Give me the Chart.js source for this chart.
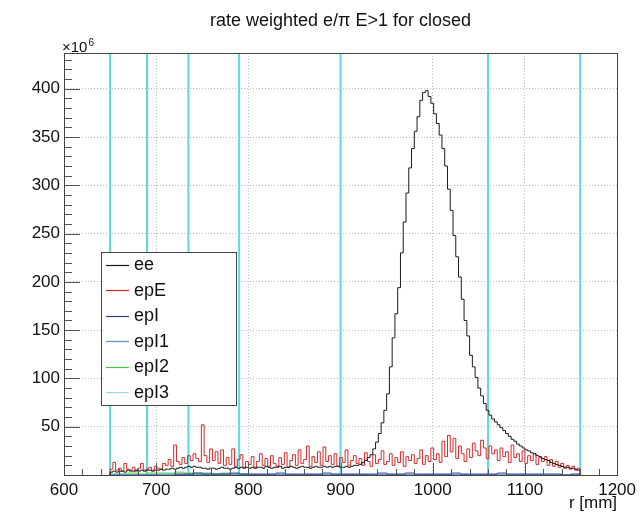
<!DOCTYPE html>
<html>
<head>
<meta charset="utf-8">
<script src="https://cdn.jsdelivr.net/npm/chart.js@4.4.1/dist/chart.umd.min.js"></script>
<style>
  html, body { margin: 0; padding: 0; background: #fff; }
  canvas { display: block; }
</style>
</head>
<body>
<canvas id="rateChart" width="641" height="515"></canvas>
<script>
// histogram binning (mm)
const binStart = 650;
const binWidth = 3;
const coarseWidth = 10;

const eeCounts = [
  3, 4, 3, 4, 4, 3, 5, 4, 4, 5,
  4, 5, 4, 5, 5, 4, 5, 5, 6, 5,
  6, 6, 7, 6, 7, 8, 7, 8, 9, 8,
  9, 8, 8, 7, 7, 6, 7, 7, 6, 7,
  8, 7, 7, 6, 7, 8, 7, 8, 7, 8,
  7, 8, 7, 8, 8, 7, 9, 8, 7, 8,
  8, 9, 7, 8, 8, 9, 8, 7, 8, 9,
  8, 8, 7, 8, 9, 8, 8, 9, 8, 9,
  8, 9, 9, 8, 8, 9, 8, 9, 10, 10,
  11, 13, 15, 18, 21, 27, 34, 43, 54, 67,
  84, 112, 142, 167, 194, 230, 262, 292, 318, 338,
  356, 371, 388, 396, 398, 392, 385, 374, 364, 352,
  338, 320, 296, 274, 248, 226, 205, 182, 160, 144,
  124, 112, 101, 90, 82, 74, 67, 62, 58, 55,
  52, 49, 46, 43, 40, 37, 35, 32, 30, 28,
  26, 25, 23, 22, 20, 19, 17, 16, 15, 13,
  12, 11, 10, 9, 8, 8, 7, 7, 6, 5
];

const epECounts = [
  6, 13, 5, 7, 4, 12, 6, 5, 8, 4,
  7, 12, 5, 6, 8, 5, 9, 7, 6, 12,
  10, 16, 9, 31, 14, 11, 18, 12, 20, 15,
  22, 17, 14, 52, 20, 13, 27, 15, 24, 12,
  26, 10, 18, 11, 27, 9, 16, 21, 8, 14,
  11, 19, 8, 14, 22, 10, 17, 9, 20, 12,
  9, 18, 11, 23, 8, 15, 21, 10, 26, 12,
  16, 30, 9, 19, 13, 24, 10, 29, 14, 20,
  11, 22, 9, 18, 13, 26, 10, 15, 20, 12,
  17, 10, 23, 14, 9, 21, 12, 16, 25, 11,
  14, 22, 10, 18, 13, 24, 9, 19, 15, 21,
  12, 17, 26, 11, 20, 14, 28, 16, 22, 13,
  35, 19, 41, 24, 38, 17, 30, 22, 14, 27,
  18, 33, 25, 20, 36, 28, 17, 30, 22, 26,
  15, 28, 19, 24, 13, 31, 18, 22, 14, 25,
  12, 20, 15, 22, 11, 18, 14, 19, 10, 16,
  9, 14, 8, 12, 7, 10, 6, 9, 5, 7
];

const epIStart = 720;
const epICounts = [
  1, 1, 2, 1, 1, 1, 2, 1, 1, 1,
  1, 2, 1, 1, 1, 1, 2, 1, 1, 1,
  1, 1, 2, 1, 1, 2, 1, 1, 1, 1,
  2, 1, 1, 1, 1, 2, 1, 1, 1, 1,
  1, 1, 0, 1
];

const epI1Start = 650;
const epI1Counts = [
  0.5, 0.8, 0.4, 0.6, 0.5, 0.7, 0.9, 0.6, 0.8, 0.7,
  0.9, 1.0, 0.8, 0.7, 0.9, 0.6, 0.5, 0.7, 0.6, 0.5,
  0.4, 0.6, 0.5, 0.4, 0.5, 0.6, 0.4, 0.5, 0.3, 0.4,
  0.5, 0.4, 0.3, 0.4, 0.5, 0.3, 0.4, 0.3, 0.4, 0.3,
  0.3, 0.4, 0.2, 0.3, 0.3, 0.2, 0.3, 0.2, 0.2, 0.1,
  0.1
];

const epI2Start = 650;
const epI2Counts = [1, 1, 2, 1, 2, 2, 2, 3, 2, 2, 2, 1, 2, 1, 1];

const epI3Start = 650;
const epI3Counts = [
  0.3, 0.4, 0.3, 0.5, 0.4, 0.6, 0.5, 0.7, 0.6, 0.5,
  0.6, 0.7, 0.5, 0.4, 0.5, 0.4, 0.3, 0.4, 0.3, 0.3,
  0.2, 0.3, 0.2, 0.3, 0.2, 0.2, 0.3, 0.2, 0.2, 0.1,
  0.2, 0.1, 0.2, 0.1, 0.1, 0.2, 0.1, 0.1, 0.1, 0.1,
  0.1, 0.1, 0.1, 0.1, 0.1, 0.1, 0.1, 0.1, 0.1, 0.1,
  0.1
];

const seriesNames = ["ee", "epE", "epI", "epI1", "epI2", "epI3"];
const seriesColors = ["#1a1a1a", "#d22b2b", "#2e3d92", "#5b8fd6", "#3ccc3c", "#9fd6d6"];

const cutPositions = [650, 690, 735, 790, 900, 1060, 1160];

const xTickValues = [600, 700, 800, 900, 1000, 1100, 1200];
const yTickValues = [50, 100, 150, 200, 250, 300, 350, 400];
const xMin = 600, xMax = 1200, yMin = 0, yMax = 437;
const xMinorStep = 20, yMinorStep = 10;

// stepped outline of a histogram: lower bin edges, closed to 0 at both ends
function histPoints(start, width, counts) {
  const pts = [{ x: start, y: 0 }];
  counts.forEach((c, i) => pts.push({ x: start + i * width, y: c }));
  pts.push({ x: start + counts.length * width, y: 0 });
  return pts;
}

const histSets = [
  histPoints(binStart, binWidth, eeCounts),
  histPoints(binStart, binWidth, epECounts),
  histPoints(epIStart, coarseWidth, epICounts),
  histPoints(epI1Start, coarseWidth, epI1Counts),
  histPoints(epI2Start, coarseWidth, epI2Counts),
  histPoints(epI3Start, coarseWidth, epI3Counts)
];

const datasets = histSets.map((pts, i) => ({
  label: seriesNames[i],
  data: pts,
  borderColor: seriesColors[i],
  borderWidth: 1,
  pointRadius: 0,
  stepped: "before",
  fill: false,
  order: 1 + i
}));

cutPositions.forEach(c => datasets.push({
  label: "cut",
  data: [{ x: c, y: yMin }, { x: c, y: yMax }],
  borderColor: "#5cdada",
  borderWidth: 2,
  pointRadius: 0,
  fill: false,
  order: 20
}));

const FONT = "'Liberation Sans', Arial, Helvetica, sans-serif";

// frame, inner tick marks, legend box, title, exponent, axis label
const rootFrame = {
  id: "rootFrame",
  afterDatasetsDraw(chart) {
    const { ctx, chartArea: a, scales } = chart;
    const xs = scales.x, ys = scales.y;
    ctx.save();
    ctx.strokeStyle = "#555";
    ctx.lineWidth = 1;
    ctx.beginPath();
    for (let v = yMin + yMinorStep; v < yMax; v += yMinorStep) {
      const y = Math.round(ys.getPixelForValue(v)) + 0.5;
      const len = v % 50 === 0 ? 16 : 8;
      ctx.moveTo(a.left, y);
      ctx.lineTo(a.left + len, y);
    }
    for (let v = xMin + xMinorStep; v < xMax; v += xMinorStep) {
      const x = Math.round(xs.getPixelForValue(v)) + 0.5;
      const len = v % 100 === 0 ? 12 : 6;
      ctx.moveTo(x, a.bottom);
      ctx.lineTo(x, a.bottom - len);
    }
    ctx.stroke();
    ctx.strokeStyle = "#444";
    ctx.strokeRect(Math.round(a.left) + 0.5, Math.round(a.top) + 0.5,
      Math.round(a.right - a.left), Math.round(a.bottom - a.top));

    // legend box
    const lx = 101, ly = 252, lw = 135, lh = 153;
    ctx.fillStyle = "#fff";
    ctx.fillRect(lx, ly, lw, lh);
    ctx.strokeStyle = "#444";
    ctx.strokeRect(lx + 0.5, ly + 0.5, lw, lh);
    ctx.font = "18px " + FONT;
    ctx.textBaseline = "middle";
    ctx.textAlign = "left";
    chart.data.datasets.slice(0, seriesNames.length).forEach((ds, i) => {
      const y = ly + 12.5 + i * 25.5;
      ctx.strokeStyle = ds.borderColor;
      ctx.lineWidth = 1.2;
      ctx.beginPath();
      ctx.moveTo(lx + 5, Math.round(y) + 0.5);
      ctx.lineTo(lx + 28, Math.round(y) + 0.5);
      ctx.stroke();
      ctx.fillStyle = "#111";
      ctx.fillText(ds.label, lx + 33, y + 1);
    });

    // title and labels
    ctx.fillStyle = "#111";
    ctx.font = "18px " + FONT;
    ctx.textAlign = "center";
    ctx.textBaseline = "middle";
    ctx.fillText("rate weighted e/\u03c0 E>1 for closed", (a.left + a.right) / 2, 21);
    ctx.textAlign = "left";
    ctx.textBaseline = "alphabetic";
    ctx.font = "15px " + FONT;
    ctx.fillText("\u00d710", 62, 52);
    const w = ctx.measureText("\u00d710").width;
    ctx.font = "10px " + FONT;
    ctx.fillText("6", 62 + w + 1, 46);
    ctx.font = "17px " + FONT;
    ctx.textAlign = "right";
    ctx.fillText("r [mm]", a.right, 508);
    ctx.restore();
  }
};

new Chart(document.getElementById("rateChart").getContext("2d"), {
  type: "line",
  data: { datasets },
  options: {
    responsive: false,
    animation: false,
    events: [],
    layout: { padding: { left: 0, top: 53, right: 21, bottom: 0 } },
    plugins: {
      legend: { display: false },
      title: { display: false },
      tooltip: { enabled: false }
    },
    scales: {
      x: {
        type: "linear",
        min: xMin,
        max: xMax,
        afterBuildTicks: s => { s.ticks = xTickValues.map(v => ({ value: v })); },
        afterFit: s => { s.height = 40; },
        ticks: {
          padding: 5,
          color: "#111",
          font: { family: FONT, size: 17 },
          maxRotation: 0,
          autoSkip: false,
          callback: v => String(v)
        },
        grid: {
          drawTicks: false,
          color: c => (c.tick && (c.tick.value === xMin || c.tick.value === xMax)) ? "rgba(0,0,0,0)" : "#bdbdbd"
        },
        border: { display: false, dash: [1, 2] }
      },
      y: {
        type: "linear",
        min: yMin,
        max: yMax,
        afterBuildTicks: s => { s.ticks = yTickValues.map(v => ({ value: v })); },
        afterFit: s => { s.width = 64; },
        ticks: {
          padding: 4,
          color: "#111",
          font: { family: FONT, size: 17 },
          callback: v => String(v)
        },
        grid: { drawTicks: false, color: "#bdbdbd" },
        border: { display: false, dash: [1, 2] }
      }
    }
  },
  plugins: [rootFrame]
});
</script>
</body>
</html>
